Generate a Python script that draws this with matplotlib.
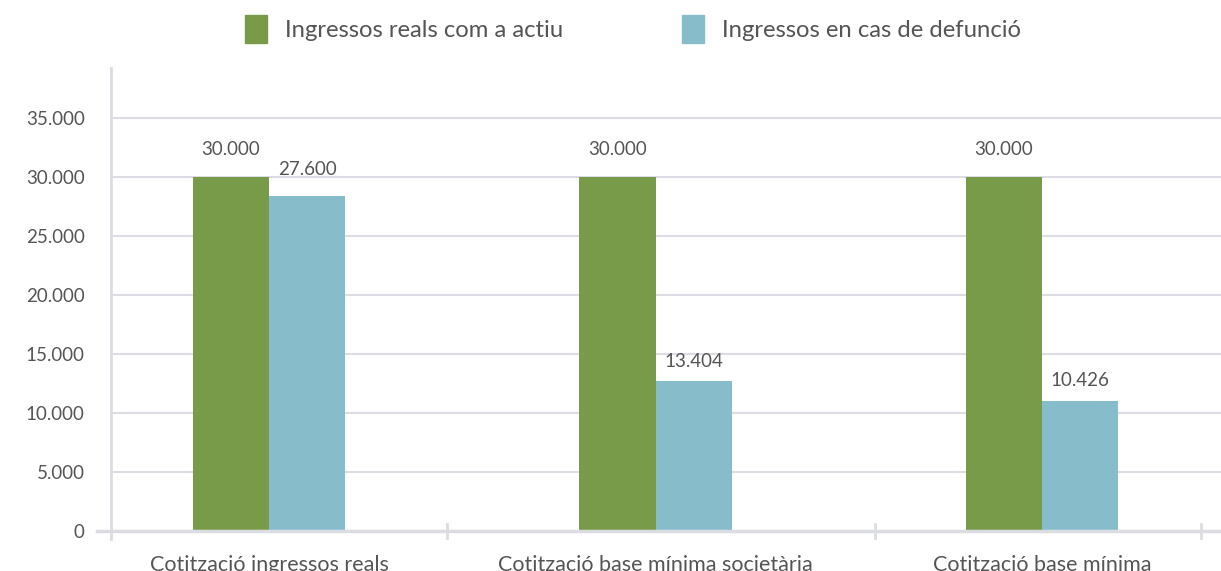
import matplotlib.pyplot as plt
import matplotlib.patches as mpatches
import numpy as np

plt.rcParams['font.family'] = ['Lato', 'DejaVu Sans']

# dades
categories = ['Cotització ingressos reals', 'Cotització base mínima societària', 'Cotització base mínima']
series_names = ['Ingressos reals com a actiu', 'Ingressos en cas de defunció']
actiu = [30000, 30000, 30000]
defuncio = [28350, 12700, 11000]
actiu_labels = ['30.000', '30.000', '30.000']
defuncio_labels = ['27.600', '13.404', '10.426']
yticks = [0, 5000, 10000, 15000, 20000, 25000, 30000, 35000]
ytick_labels = ['0', '5.000', '10.000', '15.000', '20.000', '25.000', '30.000', '35.000']

green = '#789b4a'
blue = '#87bdca'
grid_c = '#dcdce3'
text_c = '#555555'

fig = plt.figure(figsize=(12.21, 5.71), dpi=100)
ax = fig.add_axes([111 / 1221, 40 / 571, 1110 / 1221, 463 / 571])

x = np.arange(len(categories))
w = 0.197
ax.bar(x - w / 2, actiu, width=w, color=green, zorder=3)
ax.bar(x + w / 2, defuncio, width=w, color=blue, zorder=3)

# desplaçament de les etiquetes (punts)
off_actiu = [19.5, 19.5, 19.5]
off_def = [19.5, 13.7, 15.1]
for i in range(len(categories)):
    ax.annotate(actiu_labels[i], (x[i] - w / 2, actiu[i]), xytext=(0, off_actiu[i]),
                textcoords='offset points', ha='center', va='center',
                fontsize=13.5, color=text_c)
    ax.annotate(defuncio_labels[i], (x[i] + w / 2, defuncio[i]), xytext=(0, off_def[i]),
                textcoords='offset points', ha='center', va='center',
                fontsize=13.5, color=text_c)

ax.set_xlim(-0.409, 2.463)
ax.set_ylim(0, 39200)
ax.set_yticks(yticks)
ax.set_yticklabels(ytick_labels, fontsize=13.5, color=text_c)
ax.tick_params(axis='y', length=0, pad=19)
ax.yaxis.grid(True, color=grid_c, linewidth=1.5, zorder=0)

# les etiquetes de categoria sense marca; marques a les separacions
ax.set_xticks(x)
ax.set_xticklabels(categories, fontsize=15.5, color=text_c)
ax.tick_params(axis='x', length=0, pad=17)
for sx in [0.461, 1.568, 2.411]:
    ax.plot([sx, sx], [-600, 600], color=grid_c, linewidth=2, clip_on=False, zorder=4)

for s in ['top', 'right']:
    ax.spines[s].set_visible(False)
ax.spines['left'].set_color(grid_c)
ax.spines['left'].set_linewidth(2)
ax.spines['left'].set_bounds(-700, 39200)
ax.spines['bottom'].set_visible(False)
ax.plot([-0.445, 2.463], [0, 0], color=grid_c, linewidth=2.5, clip_on=False, zorder=4)

handles = [mpatches.Patch(color=green), mpatches.Patch(color=blue)]
fig.legend(handles, series_names, loc='center', bbox_to_anchor=(633 / 1221, 1 - 29 / 571),
           ncol=2, frameon=False, fontsize=17.2, handlelength=0.92, handleheight=1.4,
           columnspacing=5.0, handletextpad=0.75, labelcolor=text_c)

plt.savefig('out.png', dpi=100)
